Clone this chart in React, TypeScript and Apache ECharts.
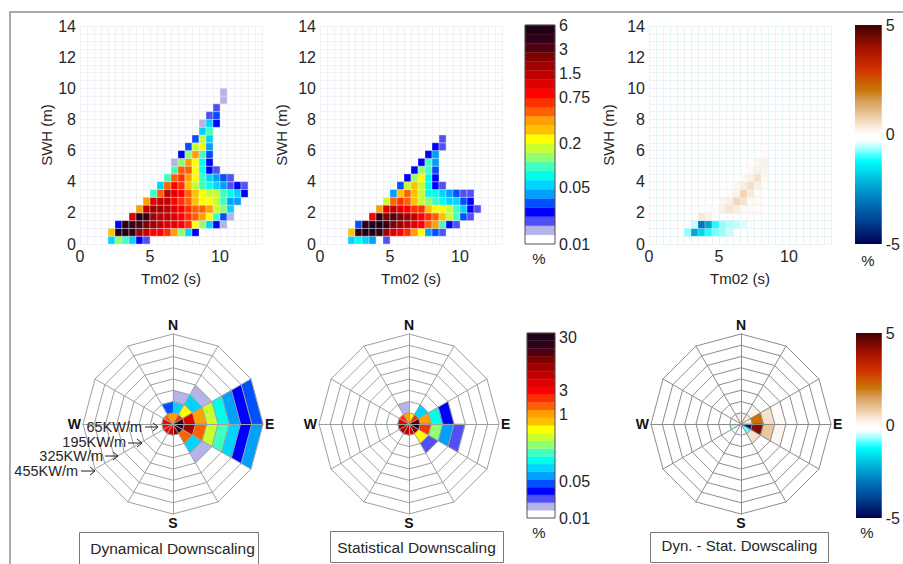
import React, { useEffect, useRef } from "react";
import * as echarts from "echarts";

const FONT = "Liberation Sans";
const TEXT = "#262626";

// colour classes of the stepped colour bars, bottom to top
const classColors = [
  "#ffffff", "#b4b4e8", "#5050f5", "#0000ff", "#0050ff", "#00a0ff", "#00d4ff", "#00ffe8",
  "#40ffc0", "#90ff70", "#c8ff30", "#ffff00", "#ffc000", "#ffa000", "#ff6000", "#ff3000",
  "#ff0000", "#e00000", "#c00000", "#a00000", "#800000", "#500010", "#300018", "#200018",
];

// diverging colour bar stops: value, colour
const divergingStops: [number, string][] = [
  [-5, "#000050"], [-4, "#004090"], [-3, "#0078bc"], [-2, "#00c0e0"], [-1.2, "#00ffff"],
  [-0.6, "#b0ffff"], [-0.25, "#ffffff"], [0, "#ffffff"], [0.5, "#f6e2cc"], [1, "#e8c090"],
  [1.5, "#d8a060"], [2, "#c87808"], [3, "#d03000"], [4, "#a01000"], [5, "#400000"],
];

// scatter tables: [row (0.5 m bins), first column (0.5 s bins), colour classes]
const dynamicalRows: [number, number, number[]][] = [
  [0, 4, [6, 9, 8, 6, 3, 2]],
  [1, 4, [12, 23, 23, 22, 19, 18, 16, 16, 15, 13, 9, 6, 3]],
  [2, 5, [3, 22, 22, 21, 20, 19, 18, 17, 17, 16, 15, 11, 9, 6, 3, 1]],
  [3, 7, [17, 23, 22, 19, 18, 18, 17, 16, 15, 14, 13, 11, 8, 4, 1]],
  [4, 8, [13, 18, 19, 19, 18, 17, 16, 15, 14, 14, 13, 10, 9, 6]],
  [5, 9, [13, 17, 18, 18, 16, 15, 14, 12, 11, 11, 10, 8, 5, 5]],
  [6, 10, [8, 14, 18, 17, 16, 14, 12, 11, 10, 10, 8, 7, 6, 3]],
  [7, 11, [6, 14, 16, 15, 12, 10, 8, 7, 6, 5, 2, 3, 2]],
  [8, 12, [8, 14, 15, 13, 11, 8, 6, 5, 4, 2]],
  [9, 13, [8, 14, 14, 11, 7, 3, 2]],
  [10, 13, [1, 9, 13, 11, 7, 3]],
  [11, 14, [3, 9, 13, 8, 4]],
  [12, 15, [4, 10, 11, 5]],
  [13, 16, [4, 10, 6]],
  [14, 17, [6, 8]],
  [15, 17, [1, 6, 3]],
  [16, 18, [2, 4]],
  [17, 19, [2]],
  [18, 20, [1]],
  [19, 20, [1]],
];

const statisticalRows: [number, number, number[]][] = [
  [0, 4, [6, 7, 6, 5, 0, 2]],
  [1, 4, [12, 22, 23, 23, 22, 19, 17, 16, 15, 13, 11, 5, 4, 2]],
  [2, 5, [4, 22, 23, 23, 22, 20, 19, 18, 17, 16, 14, 13, 8, 3, 2]],
  [3, 7, [16, 22, 20, 21, 20, 19, 18, 16, 15, 14, 12, 10, 8, 4, 2]],
  [4, 8, [13, 17, 18, 17, 16, 15, 15, 12, 11, 11, 10, 8, 6, 3, 2]],
  [5, 9, [10, 14, 15, 14, 12, 10, 9, 8, 7, 6, 6, 4, 3]],
  [6, 10, [5, 12, 14, 12, 10, 7, 7, 6, 5, 4, 2, 2]],
  [7, 11, [4, 10, 12, 10, 7, 3, 2]],
  [8, 12, [3, 9, 11, 7, 3]],
  [9, 13, [3, 9, 8, 4]],
  [10, 14, [3, 8, 5]],
  [11, 15, [3, 5]],
  [12, 16, [3, 2]],
  [13, 17, [2]],
];

// difference table: [row, first column, values in %]
const differenceRows: [number, number, number[]][] = [
  [1, 5, [-0.7, -2.3, -1.7, -1.1, -0.8, -0.7, -0.5]],
  [2, 6, [-0.5, -3, -2.4, -1.1, -0.7, -0.6, -0.55, -0.4, -0.3]],
  [3, 7, [0.35, 0.25, 0.03]],
  [4, 8, [0.03, 0.05, 0.2, 0.45, 0.3, 0.1, 0.08, 0.04]],
  [5, 10, [0.15, 0.25, 0.65, 0.45, 0.1, 0.08]],
  [6, 11, [0.05, 0.2, 0.7, 0.35, 0.08]],
  [7, 12, [0.12, 0.3, 0.55, 0.25, 0.05]],
  [8, 13, [0.1, 0.2, 0.5, 0.1]],
  [9, 14, [0.1, 0.25, 0.15]],
  [10, 15, [0.15, 0.2]],
  [11, 16, [0.08]],
];

// wave roses: [sector (30 degree steps clockwise from N), classes from the centre outwards]
const dynamicalRose: [number, number[]][] = [
  [0, [13, 6, 1]],
  [1, [15, 11, 6, 1]],
  [2, [22, 17, 13, 10, 7, 5, 3, 4]],
  [3, [23, 19, 14, 10, 8, 6, 3, 5]],
  [4, [22, 14, 6, 1]],
  [5, [20]],
  [6, [17]],
  [7, [16]],
  [8, [16]],
  [9, [16]],
  [10, [14]],
  [11, [13, 4]],
];

const statisticalRose: [number, number[]][] = [
  [0, [11]],
  [1, [15, 6]],
  [2, [21, 13, 7, 3]],
  [3, [23, 15, 9, 5, 2]],
  [4, [20, 11, 2]],
  [5, [17]],
  [6, [18]],
  [7, [18]],
  [8, [19]],
  [9, [17]],
  [10, [15]],
  [11, [13, 1]],
];

const differenceRose: [number, number[]][] = [
  [0, [0.25]],
  [1, [0.3, 0.2]],
  [2, [0.3, 2.1, 0.5, 0.08]],
  [3, [-4.6, 4.3, 0.9, 0.15]],
  [4, [-0.9, 0.5]],
  [5, [-0.1]],
  [8, [-0.6]],
  [10, [0.1]],
  [11, [0.2]],
];

const xLabelValues = [0, 5, 10];
const yLabelValues = [0, 2, 4, 6, 8, 10, 12, 14];
const compassNames = ["N", "", "", "W", "", "", "S", "", "", "E", "", ""];

const scatterBarLabels = ["6", "3", "1.5", "0.75", "0.2", "0.05", "0.01"];
const scatterBarPositions = [23.9, 21.3, 18.7, 16.1, 11, 6.2, 0];
const roseBarLabels = ["30", "3", "1", "0.05", "0.01"];
const roseBarPositions = [23.4, 16.6, 13.4, 4.8, 0];
const diffBarValues = [5, 0, -5];

const powerLabels = ["65KW/m", "195KW/m", "325KW/m", "455KW/m"];

function mix(a: string, b: string, t: number) {
  const pa = [1, 3, 5].map((i) => parseInt(a.slice(i, i + 2), 16));
  const pb = [1, 3, 5].map((i) => parseInt(b.slice(i, i + 2), 16));
  return `rgb(${pa.map((v, i) => Math.round(v + (pb[i] - v) * t)).join(",")})`;
}

function divergingColor(v: number) {
  for (let i = 1; i < divergingStops.length; i++) {
    const [v0, c0] = divergingStops[i - 1];
    const [v1, c1] = divergingStops[i];
    if (v <= v1) return mix(c0, c1, (v - v0) / (v1 - v0));
  }
  return divergingStops[divergingStops.length - 1][1];
}

const classColor = (v: number) => classColors[v];

function expandRows(rows: [number, number, number[]][]) {
  const out: number[][] = [];
  rows.forEach(([row, first, vals]) =>
    vals.forEach((v, i) => {
      if (v !== 0) out.push([(first + i) * 0.5, row * 0.5, v]);
    })
  );
  return out;
}

function expandRose(rose: [number, number[]][]) {
  const out: number[][] = [];
  rose.forEach(([sector, vals]) => vals.forEach((v, ring) => out.push([ring, sector * 30, v])));
  return out;
}

function App() {
  const ref = useRef<HTMLDivElement>(null);
  useEffect(() => {
    document.body.style.margin = "0";
    const chart = echarts.init(ref.current!, null, { renderer: "svg" });

    const grid: any[] = [];
    const xAxis: any[] = [];
    const yAxis: any[] = [];
    const series: any[] = [];
    const polar: any[] = [];
    const angleAxis: any[] = [];
    const radiusAxis: any[] = [];
    const radar: any[] = [];
    const labelStyle = { fontFamily: FONT, fontSize: 16, color: TEXT };

    const addScatter = (
      left: number,
      data: number[][],
      colorOf: (v: number) => string,
      yNameGap: number,
      lineColor: string,
      stroke: string
    ) => {
      const i = grid.length;
      grid.push({ left, top: 26, width: 182, height: 218 });
      xAxis.push({
        gridIndex: i, type: "value", min: 0, max: 13, interval: 0.5,
        name: "Tm02 (s)", nameLocation: "middle", nameGap: 27,
        nameTextStyle: { fontFamily: FONT, fontSize: 15, color: TEXT },
        axisLine: { show: false }, axisTick: { show: false },
        axisLabel: { ...labelStyle, margin: 4, customValues: xLabelValues },
        splitLine: { show: true, lineStyle: { color: lineColor, width: 1 } },
      });
      yAxis.push({
        gridIndex: i, type: "value", min: 0, max: 14, interval: 0.5,
        name: "SWH (m)", nameLocation: "middle", nameGap: yNameGap,
        nameTextStyle: { fontFamily: FONT, fontSize: 15, color: TEXT },
        axisLine: { show: false }, axisTick: { show: false },
        axisLabel: { ...labelStyle, margin: 4, customValues: yLabelValues },
        splitLine: { show: true, lineStyle: { color: lineColor, width: 1 } },
      });
      series.push({
        type: "custom", xAxisIndex: i, yAxisIndex: i, silent: true, z: 3, clip: false, data,
        renderItem: (_: any, api: any) => {
          const x = api.value(0), y = api.value(1);
          const a = api.coord([x, y + 0.5]);
          const b = api.coord([x + 0.5, y]);
          return {
            type: "rect",
            shape: { x: a[0], y: a[1], width: b[0] - a[0], height: b[1] - a[1] },
            style: { fill: colorOf(api.value(2)), stroke, lineWidth: 0.5 },
          };
        },
      });
    };

    const addRose = (cx: number, data: number[][], colorOf: (v: number) => string, lineColor: string) => {
      const i = polar.length;
      polar.push({ center: [cx, 424], radius: [0, 90] });
      angleAxis.push({ polarIndex: i, type: "value", min: 0, max: 360, startAngle: 90, clockwise: true, show: false });
      radiusAxis.push({ polarIndex: i, type: "value", min: 0, max: 8, show: false });
      radar.push({
        center: [cx, 424], radius: 90, startAngle: 90, shape: "polygon", splitNumber: 8, z: 5,
        indicator: compassNames.map((name) => ({ name, max: 8, min: 0 })),
        axisName: { fontFamily: FONT, fontSize: 14, fontWeight: "bold", color: "#111" },
        nameGap: 2,
        axisLine: { lineStyle: { color: lineColor, width: 1 } },
        axisTick: { show: false },
        splitLine: { lineStyle: { color: lineColor, width: 1 } },
        splitArea: { show: false },
      });
      series.push({
        type: "custom", coordinateSystem: "polar", polarIndex: i, silent: true, z: 1, clip: false, data,
        renderItem: (_: any, api: any) => {
          const r = api.value(0), t = api.value(1);
          const pts = [[r, t], [r + 1, t], [r + 1, t + 30], [r, t + 30]].map((p) => api.coord(p));
          const c = colorOf(api.value(2));
          return { type: "polygon", shape: { points: pts }, style: { fill: c, stroke: c, lineWidth: 0.4 } };
        },
      });
    };

    const addSteppedBar = (
      left: number, top: number, width: number, height: number,
      positions: number[], labels: string[]
    ) => {
      const i = grid.length;
      grid.push({ left, top, width, height, show: true, borderColor: "#555", borderWidth: 1, backgroundColor: "transparent", z: 6 });
      xAxis.push({ gridIndex: i, type: "value", min: 0, max: 1, show: false });
      yAxis.push({
        gridIndex: i, type: "value", min: 0, max: 24, position: "right", splitLine: { show: false },
        axisLine: { show: false }, axisTick: { show: false },
        axisLabel: {
          ...labelStyle, margin: 4, customValues: positions,
          formatter: (v: number) => labels[positions.indexOf(v)] ?? "",
        },
      });
      series.push({
        type: "custom", xAxisIndex: i, yAxisIndex: i, silent: true, z: 3, clip: false,
        data: classColors.map((_, k) => [k]),
        renderItem: (_: any, api: any) => {
          const k = api.value(0);
          const a = api.coord([0, k + 1]);
          const b = api.coord([1, k]);
          return {
            type: "rect",
            shape: { x: a[0], y: a[1], width: b[0] - a[0], height: b[1] - a[1] },
            style: { fill: classColors[k], stroke: classColors[k], lineWidth: 0.3 },
          };
        },
      });
    };

    const addDivergingBar = (left: number, top: number, width: number, height: number) => {
      const i = grid.length;
      grid.push({ left, top, width, height });
      xAxis.push({ gridIndex: i, type: "value", min: 0, max: 1, show: false });
      yAxis.push({
        gridIndex: i, type: "value", min: -5, max: 5, position: "right", splitLine: { show: false },
        axisLine: { show: false }, axisTick: { show: false },
        axisLabel: { ...labelStyle, margin: 4, customValues: diffBarValues },
      });
      const gradient = new echarts.graphic.LinearGradient(
        0, 0, 0, 1,
        divergingStops.map(([v, color]) => ({ offset: (5 - v) / 10, color })).reverse()
      );
      series.push({
        type: "custom", xAxisIndex: i, yAxisIndex: i, silent: true, z: 3, clip: false,
        data: [[0, -5, 5]],
        renderItem: (_: any, api: any) => {
          const a = api.coord([0, api.value(2)]);
          const b = api.coord([1, api.value(1)]);
          return {
            type: "rect",
            shape: { x: a[0], y: a[1], width: b[0] - a[0], height: b[1] - a[1] },
            style: { fill: gradient },
          };
        },
      });
    };

    addScatter(80, expandRows(dynamicalRows), classColor, 26, "#eef1f5", "rgba(236,238,244,0.75)");
    addScatter(320, expandRows(statisticalRows), classColor, 31, "#eef1f5", "rgba(236,238,244,0.75)");
    addScatter(649, expandRows(differenceRows), divergingColor, 33, "#e8f3f5", "rgba(230,240,240,0.5)");
    addSteppedBar(525, 25, 30, 219, scatterBarPositions, scatterBarLabels);
    addDivergingBar(855, 25, 30, 219);
    addSteppedBar(527, 333, 28, 185, roseBarPositions, roseBarLabels);
    addDivergingBar(856, 333, 29, 185);

    addRose(173, expandRose(dynamicalRose), classColor, "#a0a0a0");
    addRose(409, expandRose(statisticalRose), classColor, "#a0a0a0");
    addRose(741, expandRose(differenceRose), divergingColor, "#8c8c8c");

    const arrow = (x1: number, y1: number, x2: number, y2: number) => [
      { type: "line", silent: true, z: 20, shape: { x1, y1, x2, y2 }, style: { stroke: "#222", lineWidth: 1 } },
      {
        type: "polyline", silent: true, z: 20,
        shape: { points: [[x2 - 5, y2 - 4], [x2, y2], [x2 - 5, y2 + 4]] },
        style: { stroke: "#222", lineWidth: 1, fill: "none" },
      },
    ];
    const text = (content: string, x: number, y: number, size: number, align = "center") => ({
      type: "text", silent: true, z: 20, x, y,
      style: {
        text: content, x: 0, y: 0, fontFamily: FONT, fontSize: size, fill: TEXT,
        align, verticalAlign: "middle",
      },
    });
    const box = (x: number, y: number, width: number, height: number) => ({
      type: "rect", silent: true, z: 19, shape: { x, y, width, height },
      style: { fill: "#fff", stroke: "#777", lineWidth: 1 },
    });
    const graphic: any[] = [
      {
        type: "polyline", silent: true, z: 30,
        shape: { points: [[10, 566], [10, 12], [905, 12]] },
        style: { stroke: "#aaaaaa", lineWidth: 2, fill: "none" },
      },
      box(79.5, 532.5, 179, 40),
      box(330.5, 531.5, 173, 31),
      box(650.5, 532.5, 178, 30),
      text("Dynamical Downscaling", 172.5, 548, 15.5),
      text("Statistical Downscaling", 416.5, 547, 15.5),
      text("Dyn. - Stat. Dowscaling", 739.5, 545, 15),
      text("%", 539, 258, 15),
      text("%", 868, 260, 15),
      text("%", 539, 532, 15),
      text("%", 867, 532, 15),
      text(powerLabels[0], 142, 427, 14.5, "right"),
      text(powerLabels[1], 126, 441.5, 14.5, "right"),
      text(powerLabels[2], 103, 456, 14.5, "right"),
      text(powerLabels[3], 78, 470.5, 14.5, "right"),
      ...arrow(145, 427, 158, 427),
      ...arrow(128, 443, 142, 443),
      ...arrow(105, 456, 118, 456),
      ...arrow(81, 471, 95, 471),
    ];

    chart.setOption({
      animation: false,
      backgroundColor: "#ffffff",
      grid, xAxis, yAxis, polar, angleAxis, radiusAxis, radar, series, graphic,
    });
    return () => chart.dispose();
  }, []);
  return <div ref={ref} style={{ position: "absolute", left: 0, top: 0, width: 903, height: 564 }} />;
}

export default App;
